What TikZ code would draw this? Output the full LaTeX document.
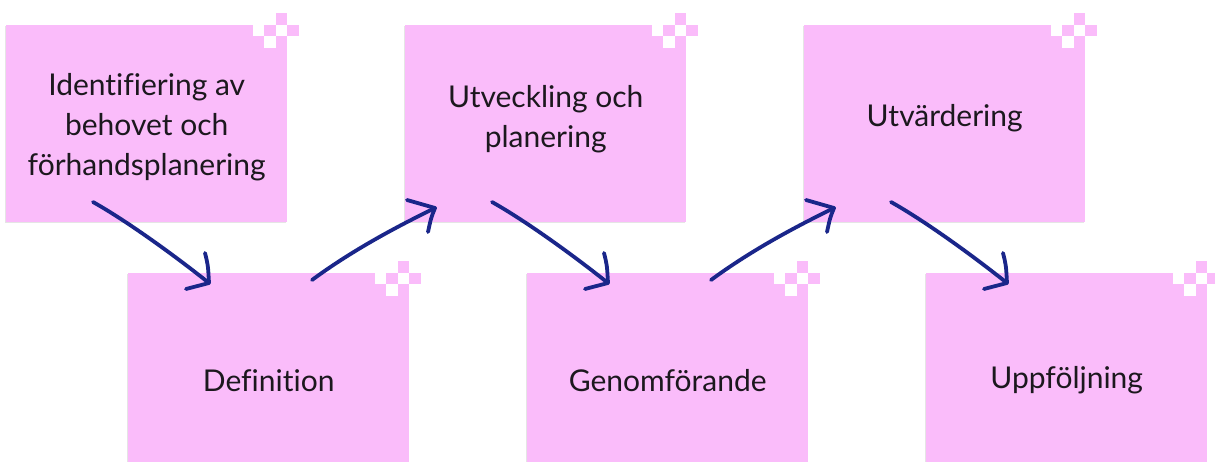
\documentclass[tikz,border=0pt]{standalone}
\usepackage{fontspec}
\setmainfont[Ligatures=NoCommon]{Lato}
\definecolor{notepink}{RGB}{250,188,250}
\definecolor{arrowblue}{RGB}{26,38,138}
\definecolor{txtcol}{RGB}{28,24,30}
\newcommand\notecorner[1]{%
  \begin{scope}[shift={(#1.north east)}]
    \def\cs{11.5}
    \fill[white] (-\cs,0) rectangle (0,-\cs);
    \fill[white] (-3*\cs,0) rectangle (-2*\cs,-\cs);
    \fill[white] (-2*\cs,-\cs) rectangle (-\cs,-2*\cs);
    \fill[notepink] (-\cs,\cs) rectangle (0,0);
    \fill[notepink] (0,0) rectangle (\cs,-\cs);
  \end{scope}}
\begin{document}
\begin{tikzpicture}[x=1pt,y=1pt,
  note/.style={fill=notepink, minimum width=281pt, minimum height=197pt,
    inner sep=0pt, anchor=north west,
    preaction={fill=black!10, transform canvas={shift={(-1pt,-1.2pt)}}}},
  lbl/.style={text=txtcol, align=center, font=\fontsize{30}{40}\selectfont, inner sep=0pt},
  arr/.style={draw=arrowblue, line width=3.8pt, line cap=round, line join=round}]
\useasboundingbox (0,0) rectangle (1215,-462);
\clip (0,0) rectangle (1215,-462);
\fill[white] (0,0) rectangle (1215,-462);

\node[note] (b1) at (6,-25) {};
\node[note] (b2) at (128,-273) {};
\node[note] (b3) at (405,-25) {};
\node[note] (b4) at (527,-273) {};
\node[note] (b5) at (804,-25) {};
\node[note] (b6) at (926,-273) {};
\foreach \b in {b1,b2,b3,b4,b5,b6} {\notecorner{\b}}

\node[lbl] (t1) at ([yshift=-3.5pt]b1.center) {Identifiering av\\behovet och\\förhandsplanering};
\node[lbl] (t2) at ([yshift=-8.5pt]b2.center) {Definition};
\node[lbl] (t3) at ([yshift=4.5pt]b3.center) {Utveckling och\\planering};
\node[lbl] (t4) at ([yshift=-8.5pt]b4.center) {Genomförande};
\node[lbl] (t5) at ([yshift=5.5pt]b5.center) {Utvärdering};
\node[lbl] (t6) at ([yshift=-8.5pt]b6.center) {Uppföljning};

% down arrows
\foreach \i/\dx in {1/0,3/399,5/798} {
  \coordinate (d\i s) at (93+\dx,-202);
  \coordinate (d\i e) at (209+\dx,-283);
  \draw[arr] (d\i s) .. controls (125+\dx,-220) and (170+\dx,-252) .. (d\i e);
  \draw[arr] (205+\dx,-253) .. controls (208+\dx,-265) .. (d\i e) -- (186+\dx,-289);
}
% up arrows
\foreach \i/\dx in {2/0,4/399} {
  \coordinate (u\i s) at (312+\dx,-280);
  \coordinate (u\i e) at (435+\dx,-208);
  \draw[arr] (u\i s) .. controls (350+\dx,-252) and (392+\dx,-229) .. (u\i e);
  \draw[arr] (407+\dx,-200) -- (u\i e) .. controls (431+\dx,-218) .. (428+\dx,-232);
}
\end{tikzpicture}
\end{document}
